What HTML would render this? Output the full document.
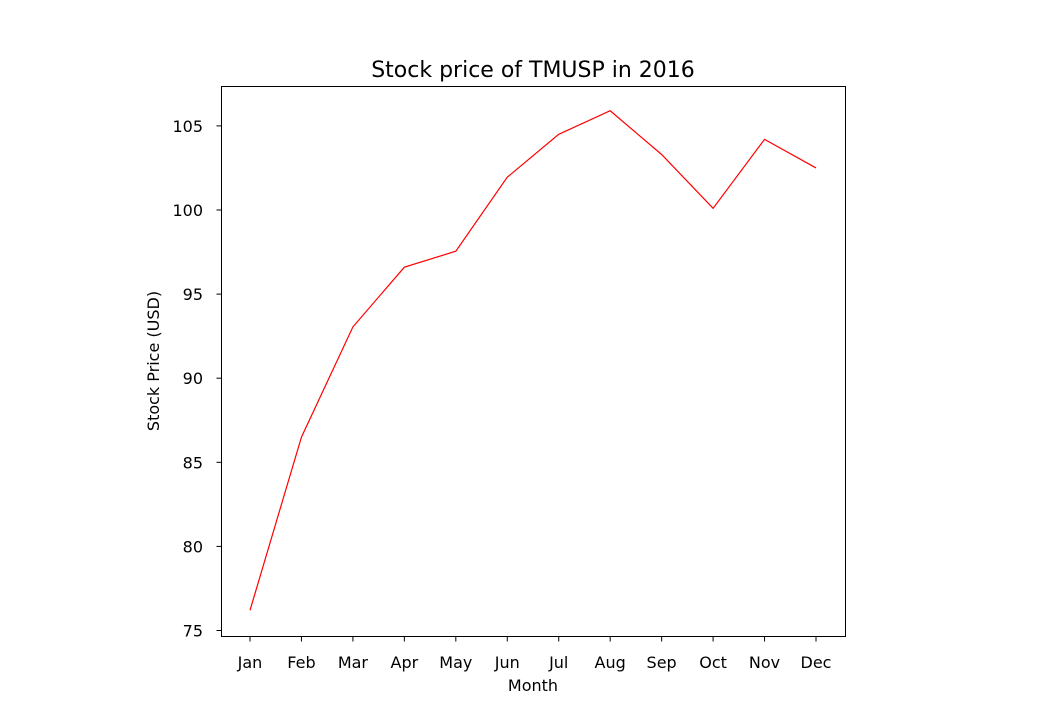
<!DOCTYPE html>
<html><head><meta charset="utf-8"><style>
body{margin:0;background:#fff;}
svg text{font-family:"DejaVu Sans","Liberation Sans",sans-serif;fill:#000;}
</style></head><body>
<svg id="chart" width="1040" height="715" xmlns="http://www.w3.org/2000/svg">
<text x="533" y="77" font-size="22" text-anchor="middle">Stock price of TMUSP in 2016</text>
<text x="533" y="691" font-size="16" text-anchor="middle">Month</text>
<text transform="translate(159,361) rotate(-90)" font-size="16" text-anchor="middle">Stock Price (USD)</text>
<g id="ticks"></g>
<polyline id="line" fill="none" stroke="#ff0000" stroke-width="1.2"/>
<rect x="221.5" y="86.5" width="624" height="550" fill="none" stroke="#000" stroke-width="1"/>
</svg>
<script>
const months=["Jan","Feb","Mar","Apr","May","Jun","Jul","Aug","Sep","Oct","Nov","Dec"];
const prices=[76.2,86.5,93.05,96.6,97.55,101.95,104.5,105.9,103.3,100.1,104.2,102.5];
const yTicks=[75,80,85,90,95,100,105];
const NS="http://www.w3.org/2000/svg";
function x(i){return 250+i*(816-250)/11;}
function y(v){return 630.5-(v-75)*16.82;}
const g=document.getElementById('ticks');
function mk(t,a){const e=document.createElementNS(NS,t);for(const k in a)e.setAttribute(k,a[k]);g.appendChild(e);return e;}
months.forEach((m,i)=>{
  const l=mk('line',{x1:x(i),x2:x(i),y1:636.5,y2:641.5,stroke:'#000'});
  
  
  const t=mk('text',{x:x(i),y:668,'font-size':'16','text-anchor':'middle'});t.textContent=m;
  
  
});
yTicks.forEach(v=>{
  const l=mk('line',{x1:216.5,x2:221.5,y1:y(v),y2:y(v),stroke:'#000'});
  
  
  const t=mk('text',{x:203,y:y(v)+6,'font-size':'16','text-anchor':'end'});t.textContent=v;
  
  
});
document.getElementById('line').setAttribute('points',prices.map((p,i)=>x(i)+','+y(p)).join(' '));
</script>
</body></html>
